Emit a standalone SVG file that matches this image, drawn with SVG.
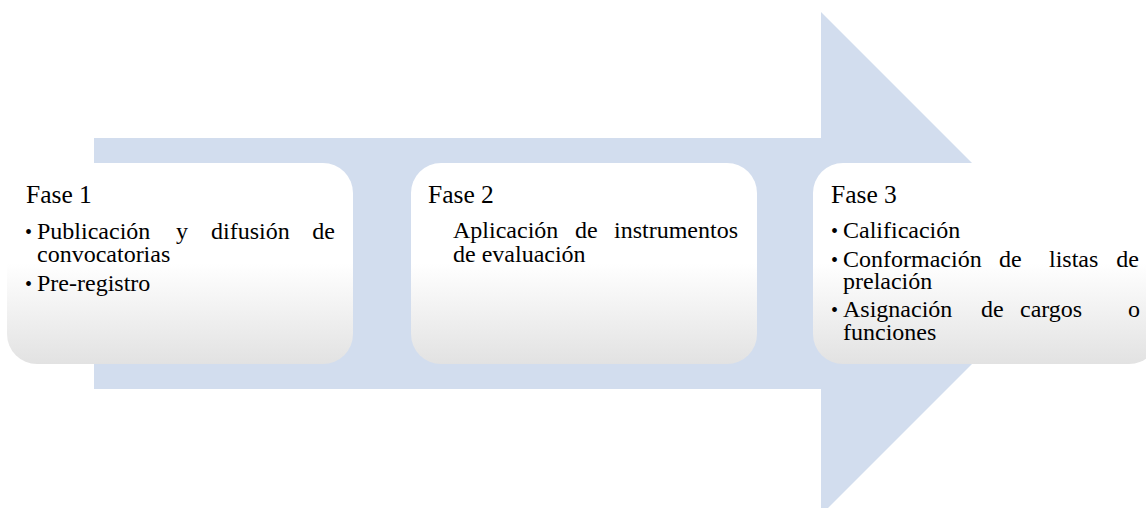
<svg xmlns="http://www.w3.org/2000/svg" width="1146" height="508" viewBox="0 0 1146 508">
<defs>
<linearGradient id="boxfill" x1="0" y1="0" x2="0" y2="1">
<stop offset="0" stop-color="#ffffff"/>
<stop offset="0.5" stop-color="#ffffff"/>
<stop offset="1" stop-color="#e2e2e2"/>
</linearGradient>
</defs>
<style>
.box{fill:url(#boxfill);}
.h{font-family:"Liberation Serif","Times New Roman",serif;font-size:25.5px;fill:#000;}
.t{font-family:"Liberation Serif","Times New Roman",serif;font-size:24px;fill:#000;}
.b{font-size:20px;}
</style>
<rect width="1146" height="508" fill="#ffffff"/>
<g id="connectors">
<polygon id="arrow" points="94,138 821,138 821,12 1072.5,263.5 821,515 821,389 94,389" fill="#d2ddee"/>
</g>
<g id="fase1">
<rect class="box" x="7" y="163" width="346" height="201" rx="30" ry="30"/>
<text class="h" x="26" y="203">Fase 1</text>
<text class="t"><tspan class="b" x="25" y="239">•</tspan><tspan x="37" y="239">Publicación</tspan><tspan x="176" y="239">y</tspan><tspan x="211" y="239">difusión</tspan><tspan x="335" y="239" text-anchor="end">de</tspan><tspan x="37" y="262">convocatorias</tspan></text>
<text class="t" y="291"><tspan class="b" x="25">•</tspan><tspan x="37">Pre-registro</tspan></text>
</g>
<g id="fase2">
<rect class="box" x="411" y="163" width="346" height="201" rx="30" ry="30"/>
<text class="h" x="428" y="203">Fase 2</text>
<text class="t"><tspan x="453" y="238">Aplicación</tspan><tspan x="575" y="238">de</tspan><tspan x="738" y="238" text-anchor="end">instrumentos</tspan><tspan x="453" y="262">de evaluación</tspan></text>
</g>
<g id="fase3">
<rect class="box" x="813" y="163" width="346" height="201" rx="30" ry="30"/>
<text class="h" x="831" y="203">Fase 3</text>
<text class="t" y="238"><tspan class="b" x="831">•</tspan><tspan x="843">Calificación</tspan></text>
<text class="t"><tspan class="b" x="831" y="267">•</tspan><tspan x="843" y="267">Conformación</tspan><tspan x="999" y="267">de</tspan><tspan x="1049" y="267">listas</tspan><tspan x="1139" y="267" text-anchor="end">de</tspan><tspan x="843" y="289">prelación</tspan></text>
<text class="t"><tspan class="b" x="831" y="317">•</tspan><tspan x="843" y="317">Asignación</tspan><tspan x="981" y="317">de</tspan><tspan x="1020" y="317">cargos</tspan><tspan x="1140" y="317" text-anchor="end">o</tspan><tspan x="843" y="340">funciones</tspan></text>
</g>
</svg>
